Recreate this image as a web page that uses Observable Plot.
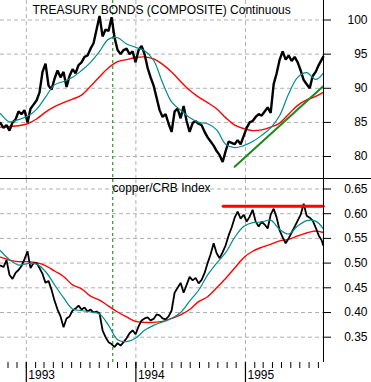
<!DOCTYPE html>
<html>
<head>
<meta charset="utf-8">
<script src="https://cdn.jsdelivr.net/npm/d3@7"></script>
<script src="https://cdn.jsdelivr.net/npm/@observablehq/plot@0.6"></script>
<style>
  html, body { margin: 0; padding: 0; background: #fff; }
  #chart { width: 371px; font-family: "Liberation Sans", Arial, sans-serif; }
  #chart svg { display: block; }
  #panel2 { border-top: 1px solid #000; }
</style>
</head>
<body>
<div id="chart"><div id="panel1"></div><div id="panel2"></div></div>
<script>
// ---------- data ----------
const topTitle = "TREASURY BONDS (COMPOSITE) Continuous";
const bottomTitle = "copper/CRB Index";
const yearLabels = ["1993", "1994", "1995"];
const bondTicks = [80, 85, 90, 95, 100];
const crbTicks = [0.35, 0.40, 0.45, 0.50, 0.55, 0.60, 0.65];
const markerDate = "1993-10-16";
const xStart = "1992-10-07";
const xEnd = "1995-09-18";

const dates = [
  "1992-10-07","1992-10-17","1992-10-27","1992-11-06","1992-11-16","1992-11-26","1992-12-06","1992-12-16","1992-12-26",
  "1993-01-05","1993-01-15","1993-01-25","1993-02-04","1993-02-14","1993-02-24","1993-03-06","1993-03-16","1993-03-26",
  "1993-04-05","1993-04-15","1993-04-25","1993-05-05","1993-05-15","1993-05-25","1993-06-04","1993-06-14","1993-06-24",
  "1993-07-04","1993-07-14","1993-07-24","1993-08-03","1993-08-13","1993-08-23","1993-09-02","1993-09-12","1993-09-22",
  "1993-10-02","1993-10-12","1993-10-22","1993-11-01","1993-11-11","1993-11-21","1993-12-01","1993-12-11","1993-12-21","1993-12-31",
  "1994-01-10","1994-01-20","1994-01-30","1994-02-09","1994-02-19","1994-03-01","1994-03-11","1994-03-21","1994-03-31",
  "1994-04-10","1994-04-20","1994-04-30","1994-05-10","1994-05-20","1994-05-30","1994-06-09","1994-06-19","1994-06-29",
  "1994-07-09","1994-07-19","1994-07-29","1994-08-08","1994-08-18","1994-08-28","1994-09-07","1994-09-17","1994-09-27",
  "1994-10-07","1994-10-17","1994-10-27","1994-11-06","1994-11-16","1994-11-26","1994-12-06","1994-12-16","1994-12-26",
  "1995-01-05","1995-01-15","1995-01-25","1995-02-04","1995-02-14","1995-02-24","1995-03-06","1995-03-16","1995-03-26",
  "1995-04-05","1995-04-15","1995-04-25","1995-05-05","1995-05-15","1995-05-25","1995-06-04","1995-06-14","1995-06-24",
  "1995-07-04","1995-07-14","1995-07-24","1995-08-03","1995-08-13","1995-08-23","1995-09-02","1995-09-12","1995-09-17"
];

const bondClose = [
  84.9,84.2,84.6,83.8,85.0,85.4,86.6,86.2,86.8,
  85.0,87.0,87.6,88.2,89.4,92.4,93.6,90.4,89.8,
  91.4,92.6,91.6,92.4,90.2,91.8,92.8,92.2,93.4,
  93.8,94.6,94.8,95.8,96.6,98.6,100.6,97.6,98.6,
  98.4,100.4,97.4,95.6,95.0,95.6,95.8,95.0,95.4,93.8,
  95.6,96.2,95.0,93.0,91.6,90.4,88.6,86.8,85.8,
  86.2,84.8,83.6,86.6,87.0,85.6,87.4,85.2,83.6,
  84.9,85.2,84.8,84.6,83.6,82.8,82.2,81.6,80.8,
  80.2,79.2,80.8,82.2,82.0,81.8,82.4,81.8,83.0,
  84.2,85.0,85.2,85.8,86.2,86.0,86.6,87.2,86.4,
  90.6,92.2,94.2,95.4,94.2,94.8,94.0,94.6,93.8,
  92.6,91.2,90.6,90.0,91.8,92.4,93.4,94.2,94.6
];

const crbClose = [
  0.495,0.492,0.506,0.476,0.468,0.480,0.486,0.494,0.508,
  0.524,0.490,0.500,0.500,0.490,0.478,0.460,0.464,0.446,
  0.424,0.406,0.392,0.370,0.388,0.392,0.404,0.408,0.414,
  0.406,0.410,0.402,0.406,0.400,0.402,0.398,0.364,0.350,
  0.340,0.336,0.330,0.338,0.333,0.340,0.348,0.358,0.364,0.356,
  0.372,0.384,0.388,0.390,0.384,0.387,0.396,0.394,0.388,
  0.386,0.392,0.404,0.440,0.450,0.460,0.440,0.456,0.472,
  0.465,0.470,0.459,0.466,0.480,0.500,0.518,0.540,0.520,
  0.510,0.522,0.536,0.556,0.572,0.592,0.604,0.590,0.598,
  0.584,0.594,0.608,0.584,0.574,0.584,0.578,0.570,0.598,
  0.610,0.592,0.566,0.552,0.540,0.550,0.562,0.574,0.586,
  0.598,0.620,0.596,0.592,0.586,0.572,0.556,0.546,0.536
];

const maDates = [
  "1992-10-07","1992-11-06","1992-12-06","1993-01-05","1993-02-04","1993-03-06","1993-04-05","1993-05-05",
  "1993-06-04","1993-07-04","1993-08-03","1993-09-02","1993-10-02","1993-11-01","1993-12-01","1993-12-31",
  "1994-01-30","1994-03-01","1994-03-31","1994-04-30","1994-05-30","1994-06-29","1994-07-29","1994-08-28",
  "1994-09-27","1994-10-27","1994-11-26","1994-12-26","1995-01-25","1995-02-24","1995-03-26","1995-04-25",
  "1995-05-25","1995-06-24","1995-07-24","1995-08-23","1995-09-17"
];

const bondFastMA = [
  86.3,85.1,85.4,85.9,86.9,88.7,90.5,91.0,
  91.6,92.6,93.8,95.4,97.2,97.4,96.5,96.0,
  95.5,94.1,90.8,88.0,86.8,85.7,85.0,84.8,
  83.9,81.8,81.3,81.6,82.2,83.1,84.2,86.0,
  89.2,91.6,92.3,91.3,92.2
];
const bondSlowMA = [
  84.3,84.4,84.5,84.8,85.5,86.5,87.3,87.9,
  88.4,89.0,90.3,91.7,93.0,93.9,94.2,94.5,
  94.6,94.3,93.5,92.4,91.0,89.7,88.7,87.9,
  87.0,85.7,84.6,84.1,83.8,83.9,84.3,84.9,
  86.2,87.5,88.3,88.8,89.4
];
const crbFastMA = [
  0.525,0.507,0.496,0.499,0.498,0.483,0.456,0.430,
  0.407,0.404,0.401,0.397,0.374,0.345,0.341,0.348,
  0.364,0.374,0.381,0.388,0.400,0.423,0.445,0.476,
  0.500,0.521,0.552,0.574,0.582,0.583,0.587,0.568,
  0.559,0.575,0.586,0.585,0.570
];
const crbSlowMA = [
  0.512,0.506,0.503,0.503,0.501,0.495,0.484,0.473,
  0.456,0.448,0.433,0.425,0.413,0.401,0.391,0.382,
  0.380,0.380,0.382,0.388,0.395,0.406,0.422,0.432,
  0.450,0.469,0.490,0.511,0.524,0.532,0.538,0.545,
  0.548,0.555,0.561,0.565,0.562
];

const bondTrendDates = ["1994-11-26", "1995-09-17"];
const bondTrendValues = [78.5, 90.3];
const crbResistanceDates = ["1994-10-19", "1995-09-17"];
const crbResistanceValue = 0.615;

// ---------- build tables ----------
const D = s => new Date(s);
const close1 = dates.map((d, i) => ({date: D(d), v: bondClose[i]}));
const close2 = dates.map((d, i) => ({date: D(d), v: crbClose[i]}));
const fast1 = maDates.map((d, i) => ({date: D(d), v: bondFastMA[i]}));
const slow1 = maDates.map((d, i) => ({date: D(d), v: bondSlowMA[i]}));
const fast2 = maDates.map((d, i) => ({date: D(d), v: crbFastMA[i]}));
const slow2 = maDates.map((d, i) => ({date: D(d), v: crbSlowMA[i]}));
const trend = bondTrendDates.map((d, i) => ({date: D(d), v: bondTrendValues[i]}));
const resist = crbResistanceDates.map(d => ({date: D(d), v: crbResistanceValue}));
const yearDates = yearLabels.map(y => D(y + "-01-01"));
const monthDates = d3.utcMonth.range(D("1992-11-01"), D(xEnd));

const W = 371;
const xOpts = {domain: [D(xStart), D(xEnd)], axis: null};
const gridStyle = {stroke: "#b0b0b0", strokeOpacity: 1, strokeDasharray: "4,3"};
const font = {fontSize: 12, fill: "#000"};

// ---------- top panel ----------
const chartTop = Plot.plot({
  width: W, height: 178,
  marginLeft: 0, marginRight: 48, marginTop: 0, marginBottom: 0,
  style: {fontFamily: "Liberation Sans, Arial, sans-serif", fontSize: "12px", background: "#fff", overflow: "visible"},
  x: xOpts,
  y: {domain: [76.78, 102.86], axis: null},
  marks: [
    Plot.gridX(yearDates, {...gridStyle}),
    Plot.gridY(bondTicks, {...gridStyle}),
    Plot.ruleX([D(markerDate)], {stroke: "#008000", strokeWidth: 1, strokeDasharray: "3,3"}),
    Plot.lineY(slow1, {x: "date", y: "v", stroke: "#ff0000", strokeWidth: 1.4, curve: "catmull-rom"}),
    Plot.lineY(close1, {x: "date", y: "v", stroke: "#000", strokeWidth: 2.4, strokeLinejoin: "miter", curve: "linear"}),
    Plot.lineY(fast1, {x: "date", y: "v", stroke: "#008c8c", strokeWidth: 1.2, curve: "catmull-rom"}),
    Plot.lineY(trend, {x: "date", y: "v", stroke: "#1a8a1a", strokeWidth: 2}),
    Plot.ruleX([D(xEnd)], {stroke: "#000", strokeWidth: 1}),
    Plot.axisY(bondTicks, {anchor: "right", label: null, tickSize: 7, tickPadding: 37, textAnchor: "end", ...font}),
    Plot.text([topTitle], {frameAnchor: "top-left", dx: 32, dy: 5, lineAnchor: "top", textAnchor: "start", ...font})
  ]
});
document.getElementById("panel1").appendChild(chartTop);

// ---------- bottom panel ----------
const chartBottom = Plot.plot({
  width: W, height: 203,
  marginLeft: 0, marginRight: 48, marginTop: 0, marginBottom: 20,
  style: {fontFamily: "Liberation Sans, Arial, sans-serif", fontSize: "12px", background: "#fff", overflow: "visible"},
  x: xOpts,
  y: {domain: [0.29878, 0.66923], axis: null},
  marks: [
    Plot.gridX(yearDates, {...gridStyle}),
    Plot.gridY(crbTicks, {...gridStyle}),
    Plot.ruleX([D(markerDate)], {stroke: "#008000", strokeWidth: 1, strokeDasharray: "3,3"}),
    Plot.lineY(slow2, {x: "date", y: "v", stroke: "#ff0000", strokeWidth: 1.4, curve: "catmull-rom"}),
    Plot.lineY(close2, {x: "date", y: "v", stroke: "#000", strokeWidth: 1.8, strokeLinejoin: "miter", curve: "linear"}),
    Plot.lineY(fast2, {x: "date", y: "v", stroke: "#008c8c", strokeWidth: 1.2, curve: "catmull-rom"}),
    Plot.lineY(resist, {x: "date", y: "v", stroke: "#ff0000", strokeWidth: 3}),
    Plot.ruleX([D(xEnd)], {stroke: "#000", strokeWidth: 1}),
    Plot.axisY(crbTicks, {anchor: "right", label: null, tickSize: 7, tickPadding: 37, textAnchor: "end", tickFormat: d3.format(".2f"), ...font}),
    Plot.axisX(monthDates, {anchor: "bottom", label: null, tickSize: 6, tickFormat: () => "", stroke: "#000"}),
    Plot.axisX(yearDates, {anchor: "bottom", label: null, tickSize: 20, tickFormat: () => "", stroke: "#000", strokeWidth: 1.2}),
    Plot.axisX(yearDates, {anchor: "bottom", label: null, tickSize: 0, tickPadding: 8, tickFormat: (d, i) => yearLabels[i], textAnchor: "start", dx: 2, ...font}),
    Plot.text([bottomTitle], {frameAnchor: "top-left", dx: 112, dy: 4, lineAnchor: "top", textAnchor: "start", ...font})
  ]
});
document.getElementById("panel2").appendChild(chartBottom);
</script>
</body>
</html>
